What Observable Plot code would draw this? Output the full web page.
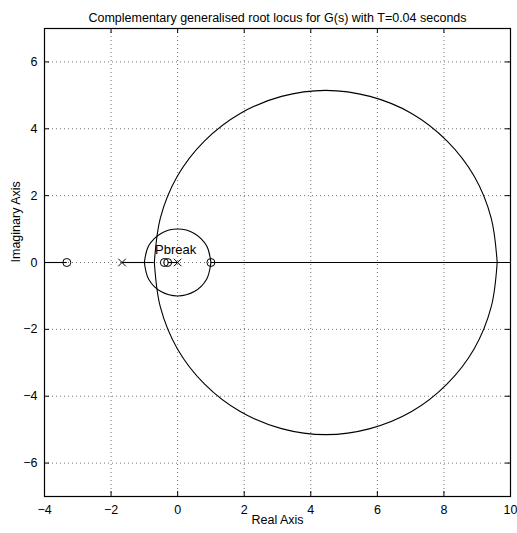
<!DOCTYPE html>
<html><head><meta charset="utf-8">
<script src="https://cdn.jsdelivr.net/npm/d3@7"></script>
<script src="https://cdn.jsdelivr.net/npm/@observablehq/plot@0.6"></script>
<style>body{margin:0;background:#fff}</style>
</head><body><div id="chart"></div>
<script>
// Tick values
const xTicks = [-4, -2, 0, 2, 4, 6, 8, 10];
const yTicks = [-6, -4, -2, 0, 2, 4, 6];

// Open-loop poles and zeros (real parts; all on the real axis)
const poleRe = [-1.67, 0.0];
const zeroRe = [-3.33, -0.40, -0.30, 1.0];

// Real-axis locus segments (start, end)
const realSegStart = [-4.0, -1.67, -0.30, 1.0];
const realSegEnd   = [-3.33, -0.72, 0.0, 10.0];

// Large loop (upper half)
const bigUpperRe = [-0.70, -0.52, -0.01, 0.81, 1.88, 3.12, 4.45, 5.78, 7.03, 8.09, 8.91, 9.42, 9.60];
const bigUpperIm = [0.00, 1.33, 2.58, 3.64, 4.46, 4.97, 5.15, 4.97, 4.46, 3.64, 2.58, 1.33, 0.00];
// Large loop (lower half)
const bigLowerRe = [-0.70, -0.52, -0.01, 0.81, 1.88, 3.12, 4.45, 5.78, 7.03, 8.09, 8.91, 9.42, 9.60];
const bigLowerIm = [0.00, -1.33, -2.58, -3.64, -4.46, -4.97, -5.15, -4.97, -4.46, -3.64, -2.58, -1.33, 0.00];

// Small loop (upper half)
const smallUpperRe = [-1.00, -0.87, -0.50, 0.00, 0.50, 0.87, 1.00];
const smallUpperIm = [0.00, 0.50, 0.87, 1.00, 0.87, 0.50, 0.00];
// Small loop (lower half)
const smallLowerRe = [-1.00, -0.87, -0.50, 0.00, 0.50, 0.87, 1.00];
const smallLowerIm = [0.00, -0.50, -0.87, -1.00, -0.87, -0.50, 0.00];

// Annotation
const noteText = ["Pbreak"];
const noteRe = [-0.68];
const noteIm = [0.38];

const titleText = "Complementary generalised root locus for G(s) with T=0.04 seconds";
const xLabel = "Real Axis";
const yLabel = "Imaginary Axis";

// Build tables
function branch(name, re, im) { return re.map((x, i) => ({branch: name, x, y: im[i]})); }
const locus = [
  ...branch("bu", bigUpperRe, bigUpperIm),
  ...branch("bl", bigLowerRe, bigLowerIm),
  ...branch("su", smallUpperRe, smallUpperIm),
  ...branch("sl", smallLowerRe, smallLowerIm)
];
const segs = realSegStart.map((s, i) => ({x1: s, x2: realSegEnd[i]}));
const notes = noteText.map((t, i) => ({t, x: noteRe[i], y: noteIm[i]}));

const gridX = xTicks.filter(d => d > -4 && d < 10);
const gridY = yTicks;

const chart = Plot.plot({
  width: 517, height: 533,
  marginLeft: 44, marginRight: 7, marginTop: 28, marginBottom: 37,
  style: {fontFamily: "'Liberation Sans', Arial, Helvetica, sans-serif", fontSize: "12.5px", background: "#fff", overflow: "visible", color: "#000"},
  x: {domain: [-4, 10]},
  y: {domain: [-7, 7]},
  marks: [
    Plot.ruleX(gridX, {x: d => d, stroke: "#000", strokeOpacity: 0.55, strokeDasharray: "1,3"}),
    Plot.ruleY(gridY, {y: d => d, stroke: "#000", strokeOpacity: 0.55, strokeDasharray: "1,3"}),
    // inward ticks
    Plot.ruleX(xTicks, {x: d => d, y1: -7, y2: -6.85, stroke: "#000"}),
    Plot.ruleX(xTicks, {x: d => d, y1: 7, y2: 6.85, stroke: "#000"}),
    Plot.ruleY(yTicks, {y: d => d, x1: -4, x2: -3.85, stroke: "#000"}),
    Plot.ruleY(yTicks, {y: d => d, x1: 10, x2: 9.85, stroke: "#000"}),
    // real axis locus
    Plot.link(segs, {x1: "x1", x2: "x2", y1: 0, y2: 0, stroke: "#000", strokeWidth: 1.1}),
    // loops
    Plot.line(locus, {x: "x", y: "y", z: "branch", curve: "catmull-rom", stroke: "#000", strokeWidth: 1.1}),
    // poles and zeros
    Plot.dot(zeroRe, {x: d => d, y: 0, r: 4, symbol: "circle", stroke: "#000", fill: "none", strokeWidth: 1}),
    Plot.dot(poleRe, {x: d => d, y: 0, r: 3.5, symbol: "times", stroke: "#000", strokeWidth: 1}),
    Plot.text(notes, {x: "x", y: "y", text: "t", textAnchor: "start", fontSize: 13}),
    Plot.frame({stroke: "#000", strokeWidth: 1.2}),
    Plot.axisX(xTicks, {tickSize: 0, tickPadding: 9, label: null, fontSize: 12.5}),
    Plot.axisY(yTicks, {tickSize: 0, tickPadding: 7, label: null, fontSize: 12.5}),
    Plot.text([xLabel], {frameAnchor: "bottom", dy: 27, fontSize: 12.5}),
    Plot.text([yLabel], {frameAnchor: "left", dx: -29, rotate: -90, fontSize: 12.5}),
    Plot.text([titleText], {frameAnchor: "top", dy: -15, fontSize: 12.5})
  ]
});
document.getElementById("chart").appendChild(chart);
</script>
</body></html>
